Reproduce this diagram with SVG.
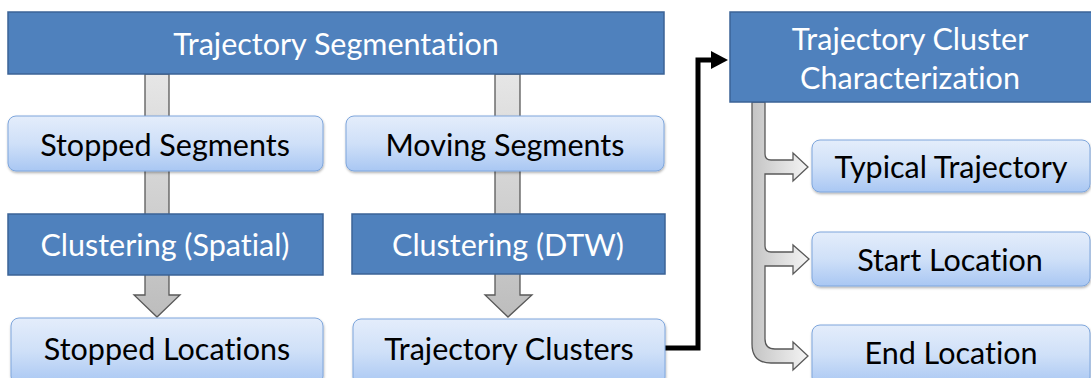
<svg xmlns="http://www.w3.org/2000/svg" width="1091" height="378" viewBox="0 0 1091 378">
  <style>
    .dark { fill: #4f81bd; stroke: #3b6396; stroke-width: 1.5; }
    .light { fill: url(#lightFill); stroke: #7ea6dc; stroke-width: 1; filter: url(#shadow); }
    .tw, .tb { font-family: Lato, "Open Sans", "Liberation Sans", sans-serif; font-size: 30.5px; text-anchor: middle; dominant-baseline: central; font-variant-ligatures: none; }
    .tw { fill: #ffffff; }
    .tb { fill: #000000; }
    .flow { fill: url(#flowFill); stroke: #595959; stroke-width: 1.3; }
    .bracket { fill: url(#bracketFill); stroke: #595959; stroke-width: 1.3; }
    .link { fill: none; stroke: #000000; stroke-width: 5; stroke-linejoin: miter; }
  </style>
  <defs>
    <linearGradient id="lightFill" x1="0" y1="0" x2="0" y2="1">
      <stop offset="0" stop-color="#e4edfb"/>
      <stop offset="0.5" stop-color="#cfe0f8"/>
      <stop offset="1" stop-color="#a9c7f3"/>
    </linearGradient>
    <linearGradient id="flowFill" x1="0" y1="0" x2="0" y2="1">
      <stop offset="0" stop-color="#e6e6e6"/>
      <stop offset="1" stop-color="#bdbdbd"/>
    </linearGradient>
    <linearGradient id="bracketFill" x1="752" y1="0" x2="808" y2="0" gradientUnits="userSpaceOnUse">
      <stop offset="0" stop-color="#c4c4c4"/>
      <stop offset="1" stop-color="#f4f4f4"/>
    </linearGradient>
    <filter id="shadow" x="-5%" y="-10%" width="110%" height="130%">
      <feDropShadow dx="0.5" dy="1.5" stdDeviation="1.2" flood-color="#000000" flood-opacity="0.3"/>
    </filter>
    <marker id="arrowHead" markerUnits="userSpaceOnUse" markerWidth="18" markerHeight="18" refX="2" refY="9" orient="auto">
      <path d="M0,0 L17,9 L0,18 Z" fill="#000000"/>
    </marker>
  </defs>

  <!-- grey flow arrows behind the left and middle columns -->
  <g id="connectors">
    <path class="flow" d="M145,74 L169,74 L169,295 L180,295 L157,317 L134,295 L145,295 Z"/>
    <path class="flow" d="M495,74 L520,74 L520,295 L532,295 L508,317 L485,295 L495,295 Z"/>
    <!-- bracket from the characterization box to its three results -->
    <path class="bracket" d="M752,102 L765,102 L765,154 Q765,160 771,160 L793,160 L793,153 L808,167 L793,181 L793,174 L765,174
      L765,246 Q765,252 771,252 L793,252 L793,245 L809,259 L793,274 L793,266 L765,266
      L765,339 Q765,349 775,349 L793,349 L793,342 L808,356 L793,370 L793,363 L771,363 Q752,363 752,344 Z"/>
    <!-- black elbow link from the clusters to the characterization step -->
    <path class="link" d="M665,348 L698,348 L698,60 L713,60" marker-end="url(#arrowHead)"/>
  </g>

  <g id="trajectory-segmentation">
    <rect class="dark" x="8" y="12" width="656" height="62"/>
    <text class="tw" x="336" y="43">Trajectory Segmentation</text>
  </g>

  <g id="stopped-segments">
    <rect class="light" x="8" y="116" width="315" height="55" rx="8"/>
    <text class="tb" x="165" y="144">Stopped Segments</text>
  </g>

  <g id="moving-segments">
    <rect class="light" x="346" y="116" width="318" height="55" rx="8"/>
    <text class="tb" x="505" y="144">Moving Segments</text>
  </g>

  <g id="clustering-spatial">
    <rect class="dark" x="8" y="214" width="315" height="61"/>
    <text class="tw" x="165" y="244">Clustering (Spatial)</text>
  </g>

  <g id="clustering-dtw">
    <rect class="dark" x="352" y="214" width="313" height="60"/>
    <text class="tw" x="508" y="244">Clustering (DTW)</text>
  </g>

  <g id="stopped-locations">
    <rect class="light" x="11" y="318" width="312" height="66" rx="8"/>
    <text class="tb" x="167" y="348">Stopped Locations</text>
  </g>

  <g id="trajectory-clusters">
    <rect class="light" x="353" y="319" width="312" height="66" rx="8"/>
    <text class="tb" x="509" y="348">Trajectory Clusters</text>
  </g>

  <g id="cluster-characterization">
    <rect class="dark" x="730" y="12" width="365" height="90"/>
    <text class="tw" x="910" y="38">Trajectory Cluster</text>
    <text class="tw" x="910" y="77">Characterization</text>
  </g>

  <g id="typical-trajectory">
    <rect class="light" x="812" y="140" width="278" height="52" rx="8"/>
    <text class="tb" x="951" y="166">Typical Trajectory</text>
  </g>

  <g id="start-location">
    <rect class="light" x="812" y="232" width="278" height="54" rx="8"/>
    <text class="tb" x="950" y="259">Start Location</text>
  </g>

  <g id="end-location">
    <rect class="light" x="812" y="325" width="278" height="60" rx="8"/>
    <text class="tb" x="951" y="352">End Location</text>
  </g>
</svg>
